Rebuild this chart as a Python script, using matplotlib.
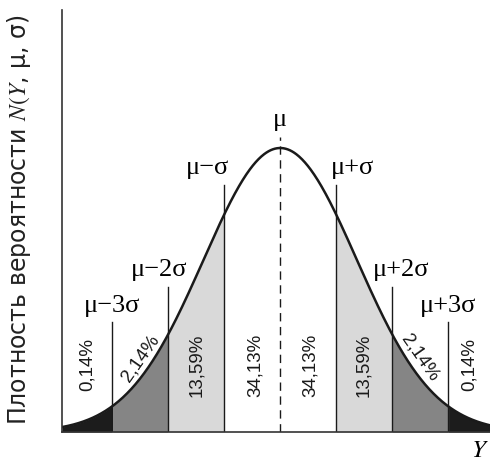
import numpy as np
import matplotlib
matplotlib.use('Agg')
import matplotlib.pyplot as plt

plt.rcParams['mathtext.fontset'] = 'stix'

# boundaries in units of sigma, and their labels
bounds = [-3, -2, -1, 0, 1, 2, 3]
bound_labels = ['μ−3σ', 'μ−2σ', 'μ−σ', 'μ', 'μ+σ', 'μ+2σ', 'μ+3σ']
# height of each marker line (fraction of peak)
line_tops = [0.386, 0.512, 0.87, 1.04, 0.87, 0.512, 0.386]
# shares of each band, left to right
pct_labels = ['0,14%', '2,14%', '13,59%', '34,13%', '34,13%', '13,59%', '2,14%', '0,14%']
pct_rot = [90, 55, 90, 90, 90, 90, -55, 90]
band_colors = ['#1c1c1c', '#858585', '#d9d9d9', 'white', 'white', '#d9d9d9', '#858585', '#1c1c1c']

xmin, xmax = -3.9, 3.75
width = 1.37   # curve is drawn wider than the marked sigma

x = np.linspace(xmin, xmax, 600)
f = lambda t: np.exp(-t**2 / (2 * width**2))
y = f(x)

fig = plt.figure(figsize=(4.9, 4.63), dpi=100)
ax = fig.add_axes([62/490, 31/463, 428/490, 422/463])
ax.set_xlim(xmin, xmax)
ax.set_ylim(0, 1.486)

edges = [xmin, -3, -2, -1, 0, 1, 2, 3, xmax]
for i in range(len(edges) - 1):
    m = (x >= edges[i]) & (x <= edges[i+1])
    ax.fill_between(x[m], 0, y[m], color=band_colors[i], lw=0)

ax.plot(x, y, color='#1a1a1a', lw=1.8)

for b, top, lab in zip(bounds, line_tops, bound_labels):
    if b == 0:
        ax.plot([b, b], [0, top], color='#1a1a1a', lw=1, ls=(0, (6, 4)))
        ax.text(b, top + 0.02, lab, ha='center', va='bottom', fontsize=19,
                family='Liberation Serif')
    else:
        ax.plot([b, b], [0, top], color='#1a1a1a', lw=1)
        shift = {1: 0.3, 2: 0.17, 3: 0.0}[abs(b)] * np.sign(b)
        ax.text(b + shift, top + 0.02, lab, ha='center', va='bottom', fontsize=19,
                family='Liberation Serif')

for i, (lab, rot) in enumerate(zip(pct_labels, pct_rot)):
    xc = (edges[i] + edges[i+1]) / 2
    if i == 3:
        xc = -0.45
    if i == 4:
        xc = 0.54
    yc = 0.236
    if abs(rot) != 90:
        yc = 0.26
    ax.text(xc, yc, lab, rotation=rot, ha='center', va='center', fontsize=13.5,
            family='Liberation Sans', color='#1a1a1a', rotation_mode='anchor')

for s in ['top', 'right']:
    ax.spines[s].set_visible(False)
for s in ['left', 'bottom']:
    ax.spines[s].set_color('#333333')
    ax.spines[s].set_linewidth(1.2)
ax.set_xticks([])
ax.set_yticks([])

fig.text(19/490, 1 - 220/463, 'Плотность вероятности $N(Y$, μ, σ)', rotation=90,
         ha='center', va='center', fontsize=17, family='DejaVu Sans', color='#222222')
fig.text(480/490, 1 - 450/463, '$Y$', ha='center', va='center', fontsize=18)

fig.savefig('out.png', dpi=100)
